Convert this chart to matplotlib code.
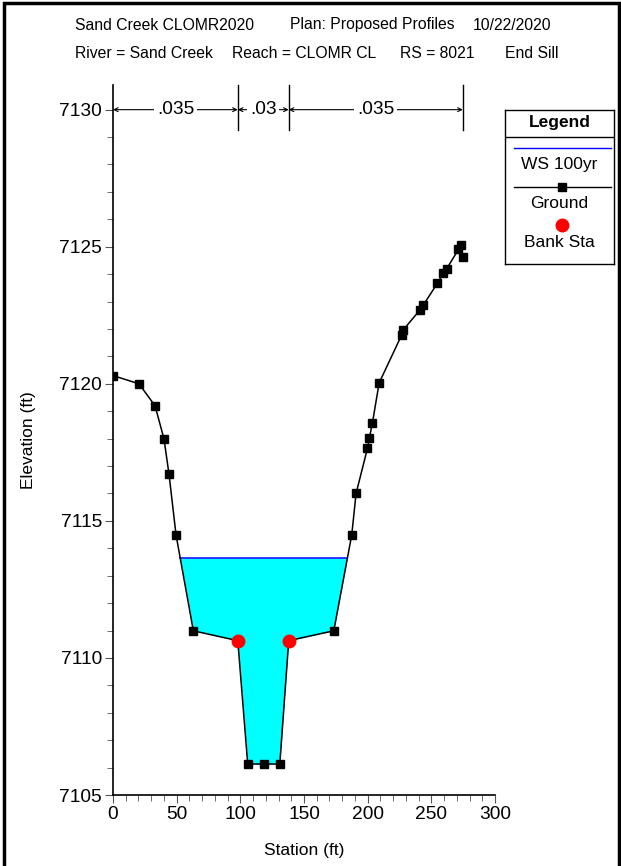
import matplotlib
matplotlib.use('Agg')
import matplotlib.pyplot as plt
from matplotlib.patches import Rectangle
from matplotlib.lines import Line2D
from matplotlib.ticker import MultipleLocator
import numpy as np

plt.rcParams['font.family'] = ['Liberation Sans', 'DejaVu Sans']

# ground profile (station ft, elevation ft)
station = [0, 20.4, 33, 40, 44, 49.5, 63.1, 98, 105.8, 118.4, 131, 138, 173.4,
           187.5, 190.9, 199.8, 201.3, 203.7, 209, 226.8, 228, 241.2, 243.8,
           254.8, 259.5, 262.1, 271.3, 273.1, 274.7]
elevation = [7120.3, 7120.0, 7119.2, 7118.0, 7116.7, 7114.49, 7110.99, 7110.63,
             7106.13, 7106.13, 7106.13, 7110.63, 7110.99, 7114.49, 7116.0,
             7117.64, 7118.02, 7118.56, 7120.03, 7121.79, 7121.97, 7122.7,
             7122.88, 7123.67, 7124.03, 7124.2, 7124.9, 7125.07, 7124.64]

# bank stations
bank_sta = [98, 138]
bank_elev = [7110.63, 7110.63]

# water surface
ws_100yr = 7113.64

# manning n
n_bounds = [0, 98, 138, 274.7]
n_values = ['.035', '.03', '.035']

header1 = [('Sand Creek CLOMR2020', 75), ('Plan: Proposed Profiles', 290), ('10/22/2020', 473)]
header2 = [('River = Sand Creek', 75), ('Reach = CLOMR CL', 232), ('RS = 8021', 400), ('End Sill', 505)]

W, H = 621, 866
fig = plt.figure(figsize=(W / 100, H / 100), dpi=100)
ax = fig.add_axes([113 / W, 1 - 795 / H, (495 - 113) / W, (795 - 85) / H])

x = np.array(station)
y = np.array(elevation)

# water fill, clipped to ground
xf = np.linspace(x.min(), x.max(), 4000)
yf = np.interp(xf, x, y)
ax.fill_between(xf, yf, ws_100yr, where=yf < ws_100yr, color='#00ffff', lw=0, zorder=1)

# ws line between crossings
wet = np.where(yf < ws_100yr)[0]
ax.plot([xf[wet[0]], xf[wet[-1]]], [ws_100yr, ws_100yr], color='blue', lw=1.1, zorder=2)

ax.plot(x, y, color='black', lw=1.1, marker='s', ms=5.5, zorder=3)
ax.plot(bank_sta, bank_elev, 'o', color='red', ms=9, mec='red', zorder=4)

ax.set_xlim(0, 300)
ax.set_ylim(7105, 7130.9)
ax.xaxis.set_major_locator(MultipleLocator(50))
ax.xaxis.set_minor_locator(MultipleLocator(10))
ax.yaxis.set_major_locator(MultipleLocator(5))
ax.yaxis.set_minor_locator(MultipleLocator(1))
ax.tick_params(which='both', direction='out', color='#555555', labelsize=13.8, pad=2)
ax.tick_params(which='major', length=6)
ax.tick_params(which='minor', length=4)
for s in ['top', 'right']:
    ax.spines[s].set_visible(False)
for s in ['left', 'bottom']:
    ax.spines[s].set_linewidth(1.2)
ax.set_xlabel('Station (ft)', fontsize=12.5, labelpad=14)
ax.set_ylabel('Elevation (ft)', fontsize=12.5, labelpad=17)

# manning n markers above the section
y_arrow = 7130.0
for b in n_bounds[1:]:
    ax.plot([b, b], [7129.25, 7130.9], color='black', lw=1, clip_on=False)
for i, n in enumerate(n_values):
    a, b = n_bounds[i], n_bounds[i + 1]
    ax.annotate('', xy=(a, y_arrow), xytext=(b, y_arrow),
                arrowprops=dict(arrowstyle='<->', lw=0.8, color='black',
                                shrinkA=0, shrinkB=0, mutation_scale=7),
                annotation_clip=False)
    ax.text((a + b) / 2, y_arrow, n, ha='center', va='center', fontsize=13.8,
            bbox=dict(boxstyle='square,pad=0.15', fc='white', ec='none'), clip_on=False)

# headers
for txt, px in header1:
    fig.text(px / W, 1 - 25 / H, txt, ha='left', va='center', fontsize=11.3)
for txt, px in header2:
    fig.text(px / W, 1 - 53 / H, txt, ha='left', va='center', fontsize=11.3)

# legend box
lax = fig.add_axes([505 / W, 1 - 264 / H, (614 - 505) / W, (264 - 110) / H])
lax.set_xlim(0, 1)
lax.set_ylim(264, 110)
lax.set_xticks([])
lax.set_yticks([])
for s in lax.spines.values():
    s.set_linewidth(1)
lax.axhline(137, color='black', lw=1)
lax.text(0.5, 123, 'Legend', ha='center', va='center', fontsize=12.5, fontweight='bold')
lax.add_line(Line2D([0.08, 0.97], [148, 148], color='blue', lw=1))
lax.text(0.5, 165, 'WS 100yr', ha='center', va='center', fontsize=12.5)
lax.add_line(Line2D([0.08, 0.97], [187, 187], color='black', lw=1))
lax.plot([0.525], [187], 's', color='black', ms=5.5)
lax.text(0.5, 204, 'Ground', ha='center', va='center', fontsize=12.5)
lax.plot([0.525], [225], 'o', color='red', ms=9)
lax.text(0.5, 243, 'Bank Sta', ha='center', va='center', fontsize=12.5)

# outer frame
fig.patches.append(Rectangle((0.007, -0.01), 0.99, 1.007, transform=fig.transFigure,
                             fill=False, ec='black', lw=2.5))

fig.savefig('out.png', dpi=100)
